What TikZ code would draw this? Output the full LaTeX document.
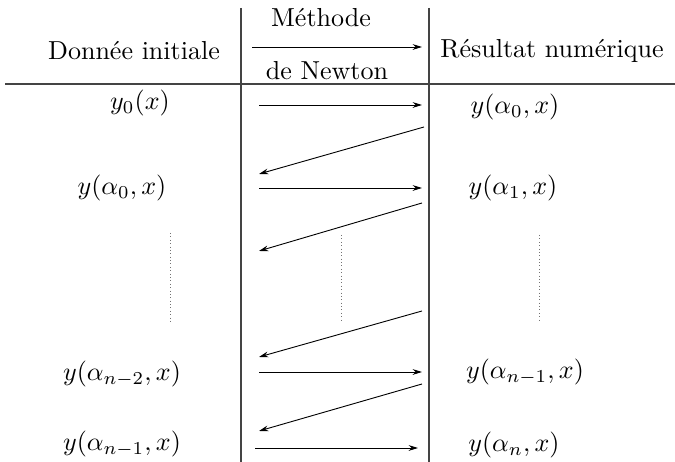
\documentclass[tikz,border=0pt]{standalone}
\usepackage{amsmath,amssymb}
\usepackage{tikz}
\usetikzlibrary{arrows.meta,positioning}
\definecolor{rulegray}{HTML}{444444}
\tikzset{
  tablerule/.style={draw=rulegray, line width=0.45pt},
  newtonarrow/.style={-{Stealth[length=3.6pt,width=2.2pt]}, line width=0.35pt},
  backarrow/.style={-{Stealth[length=3.6pt,width=2.2pt]}, line width=0.35pt},
  dotrule/.style={draw=black!55, densely dotted, line width=0.3pt},
  cell/.style={inner sep=1pt}
}

\begin{document}
\begin{tikzpicture}[x=0.01351cm, y=-0.01351cm]
\useasboundingbox (0,0) rectangle (675,462);

% table rules
\coordinate (htl) at (5,84);
\coordinate (htr) at (675,84);
\coordinate (vlt) at (241,8);
\coordinate (vlb) at (241,462);
\coordinate (vrt) at (429,8);
\coordinate (vrb) at (429,462);
\draw[tablerule] (htl) -- (htr);
\draw[tablerule] (vlt) -- (vlb);
\draw[tablerule] (vrt) -- (vrb);

% header
\node[cell] (hdata) at (134,51) {Donnée initiale};
\node[cell] (hmeth) at (321,18) {Méthode};
\node[cell] (hnewt) at (327,71) {de Newton};
\node[cell] (hres) at (552,51) {Résultat numérique};
\coordinate (ha) at (252,47);
\coordinate (hb) at (422,47);
\draw[newtonarrow] (ha) -- (hb);

% left column
\node[cell] (l0) at (140,103) {$y_0(x)$};
\node[cell] (l1) at (122,188) {$y(\alpha_0,x)$};
\node[cell] (l2) at (122,374) {$y(\alpha_{n-2},x)$};
\node[cell] (l3) at (122,444) {$y(\alpha_{n-1},x)$};

% right column
\node[cell] (r0) at (515,107) {$y(\alpha_0,x)$};
\node[cell] (r1) at (513,188) {$y(\alpha_1,x)$};
\node[cell] (r2) at (525,372) {$y(\alpha_{n-1},x)$};
\node[cell] (r3) at (514,445) {$y(\alpha_n,x)$};

% arrow ends
\coordinate (a0) at (259,105);  \coordinate (b0) at (422,105);
\coordinate (a1) at (259,188);  \coordinate (b1) at (422,188);
\coordinate (a2) at (259,372);  \coordinate (b2) at (422,372);
\coordinate (a3) at (255,448);  \coordinate (b3) at (418,448);
\coordinate (c0) at (424,127);  \coordinate (d0) at (259,174);
\coordinate (c1) at (422,203);  \coordinate (d1) at (259,251);
\coordinate (c2) at (422,311);  \coordinate (d2) at (259,357);
\coordinate (c3) at (422,384);  \coordinate (d3) at (259,431);

\draw[newtonarrow] (a0) -- (b0);
\draw[newtonarrow] (a1) -- (b1);
\draw[newtonarrow] (a2) -- (b2);
\draw[newtonarrow] (a3) -- (b3);
\draw[backarrow] (c0) -- (d0);
\draw[backarrow] (c1) -- (d1);
\draw[backarrow] (c2) -- (d2);
\draw[backarrow] (c3) -- (d3);

% dots
\coordinate (dl1) at (170,233); \coordinate (dl2) at (170,322);
\coordinate (dm1) at (341,235); \coordinate (dm2) at (341,320);
\coordinate (dr1) at (539,235); \coordinate (dr2) at (539,322);
\draw[dotrule] (dl1) -- (dl2);
\draw[dotrule] (dm1) -- (dm2);
\draw[dotrule] (dr1) -- (dr2);
\end{tikzpicture}
\end{document}
